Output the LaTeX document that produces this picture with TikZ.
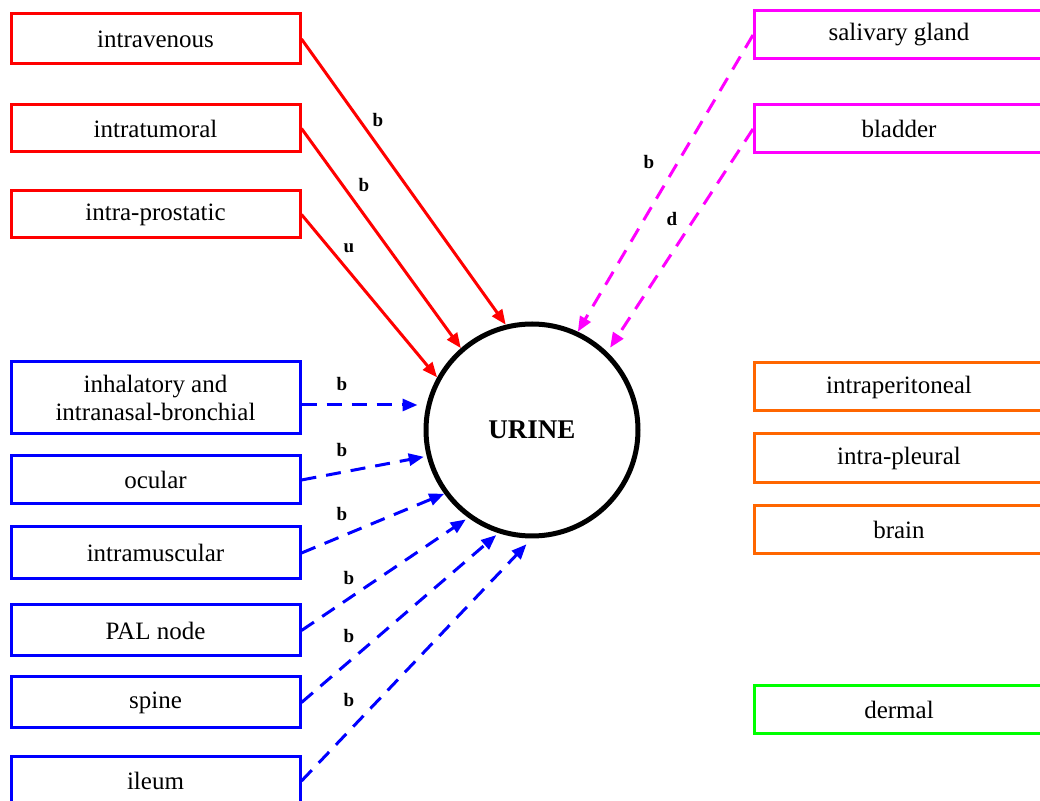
\documentclass[tikz,border=0pt]{standalone}
\usepackage{fontspec}
\setmainfont{Liberation Serif}
\usetikzlibrary{arrows.meta}
\definecolor{rred}{RGB}{255,0,0}
\definecolor{rblue}{RGB}{0,0,255}
\definecolor{rmag}{RGB}{255,0,255}
\definecolor{rorange}{RGB}{255,102,0}
\definecolor{rgreen}{RGB}{0,255,0}
\begin{document}
\begin{tikzpicture}[x=0.5pt,y=-0.5pt,
  routebox/.style={draw, line width=1.5pt, fill=white, minimum width=144.5pt,
    minimum height=24pt, inner sep=0pt, align=center,
    font=\fontsize{12.5}{14}\selectfont},
  hub/.style={circle, draw, line width=2.5pt, minimum size=106pt, inner sep=0pt,
    font=\bfseries\fontsize{13.5}{16}\selectfont},
  lab/.style={inner sep=0pt, font=\bfseries\fontsize{9.5}{11}\selectfont},
  link/.style={line width=1.5pt, -{Triangle[length=7.5pt,width=6pt]}},
  dlink/.style={link, dash pattern=on 7.5pt off 5pt}]
\useasboundingbox (0,0) rectangle (1040,801);
\clip (0,0) rectangle (1040,801);

% central compartment
\node[hub] (urine) at (532,430) {URINE};

% red routes
\node[routebox, draw=rred, minimum height=25pt] (iv) at (155.5,39) {intravenous};
\node[routebox, draw=rred, minimum height=23.5pt] (it) at (155.5,128.5) {intratumoral};
\node[routebox, draw=rred, minimum height=23.5pt] (ip) at (155.5,214.5) {intra-prostatic};

% blue routes
\node[routebox, draw=rblue, minimum height=36pt] (inh) at (155.5,398) {inhalatory and\\intranasal-bronchial};
\node[routebox, draw=rblue] (oc) at (155.5,480) {ocular};
\node[routebox, draw=rblue, minimum height=26pt] (im) at (155.5,553) {intramuscular};
\node[routebox, draw=rblue, minimum height=25.5pt] (pal) at (155.5,630.5) {PAL node};
\node[routebox, draw=rblue, minimum height=25.5pt] (sp) at (155.5,702.5) {spine};
\node[routebox, draw=rblue] (il) at (155.5,781) {ileum};

% magenta routes
\node[routebox, draw=rmag] (sg) at (899,35) {salivary gland};
\node[routebox, draw=rmag] (bl) at (899,129) {bladder};

% orange routes
\node[routebox, draw=rorange] (ipe) at (899,387) {intraperitoneal};
\node[routebox, draw=rorange, minimum height=24.5pt] (ipl) at (899,458.5) {intra-pleural};
\node[routebox, draw=rorange] (br) at (899,530) {brain};

% green route
\node[routebox, draw=rgreen] (de) at (899,710) {dermal};

% connectors
\draw[link, rred] (iv.east) -- (urine.104);
\draw[link, rred] (it.east) -- (urine.131);
\draw[link, rred] (ip.east) -- (urine.151);

\draw[dlink, rmag] (sg.west) -- (urine.65);
\draw[dlink, rmag, shorten >=2.5pt] (bl.west) -- (urine.46);

% the inhalatory connector runs level, a little below the box centre
\coordinate (inhout) at ([yshift=-3.5pt]inh.east);
\draw[dlink, rblue, shorten >=3pt] (inhout) -- (inhout -| urine.west);
\draw[dlink, rblue, shorten >=1.5pt] (oc.east) -- (urine.194);
\draw[dlink, rblue] (im.east) -- (urine.216);
\draw[dlink, rblue, shorten >=1.5pt] (pal.east) -- (urine.234);
\draw[dlink, rblue, shorten >=1.5pt] (sp.east) -- (urine.252);
\draw[dlink, rblue, shorten >=4pt] (il.east) -- (urine.270);

% connector labels
\node[lab] (l1) at (378,120) {b};
\node[lab] (l2) at (364,185) {b};
\node[lab] (l3) at (349,248) {u};
\node[lab] (l4) at (649,162) {b};
\node[lab] (l5) at (672,219) {d};
\node[lab] (l6) at (342,384) {b};
\node[lab] (l7) at (342,450) {b};
\node[lab] (l8) at (342,514) {b};
\node[lab] (l9) at (349,578) {b};
\node[lab] (l10) at (349,636) {b};
\node[lab] (l11) at (349,700) {b};
\end{tikzpicture}
\end{document}
